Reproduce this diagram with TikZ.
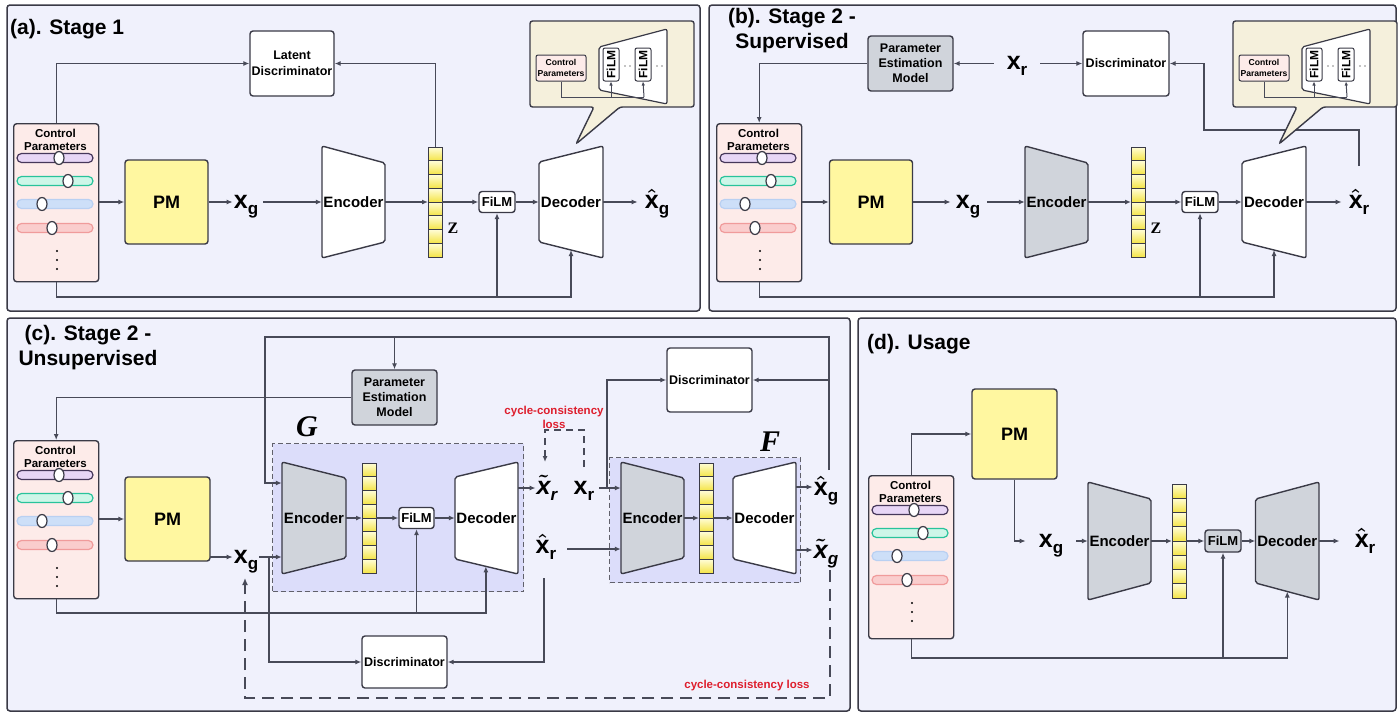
\documentclass[tikz,border=0pt]{standalone}
\usepackage{fontspec}
\setmainfont{Liberation Sans}
\newfontfamily\serifbf{Liberation Serif}
\usetikzlibrary{arrows.meta,calc,shadings}

\definecolor{panelc}{RGB}{240,241,252}
\definecolor{edgec}{RGB}{58,58,70}
\definecolor{linec}{RGB}{72,74,88}
\definecolor{pmc}{RGB}{255,247,160}
\definecolor{cpc}{RGB}{253,235,233}
\definecolor{grayc}{RGB}{208,212,219}
\definecolor{callc}{RGB}{245,240,220}
\definecolor{gfc}{RGB}{220,221,250}
\definecolor{redc}{RGB}{222,30,45}
\definecolor{vecA}{RGB}{255,253,215}
\definecolor{vecB}{RGB}{244,228,70}
\definecolor{purpF}{RGB}{232,214,246}
\definecolor{purpD}{RGB}{70,55,90}
\definecolor{tealF}{RGB}{205,246,232}
\definecolor{tealD}{RGB}{40,195,155}
\definecolor{blueF}{RGB}{205,223,248}
\definecolor{blueD}{RGB}{185,208,242}
\definecolor{redF}{RGB}{250,205,205}
\definecolor{redD}{RGB}{240,155,155}

\newcommand\fsz[1]{\fontsize{#1}{#1}\selectfont}
\newcommand\xsub[2]{{\bfseries\fsz{25}#1\raisebox{-0.22em}{\fsz{17}#2}}}
\newcommand\xhat[1]{{\bfseries\fsz{25}{\boldmath$\hat{\mbox{x}}$}\raisebox{-0.22em}{\fsz{17}#1}}}
\newcommand\xtil[1]{{\bfseries\itshape\fsz{25}{\boldmath$\tilde{\mbox{x}}$}\raisebox{-0.22em}{\fsz{17}#1}}}

% control parameter box: name, left, top, height
\newcommand\cpbox[4]{%
  \node[bx, fill=cpc, minimum width=85pt, minimum height=#4pt, anchor=north west] (#1) at (#2,#3) {};
  \node[font=\bfseries\fontsize{11.5}{13}\selectfont, inner sep=0pt, align=center] (#1-t) at ({#2+42.5},{#3+16.5}) {Control\\Parameters};
  \draw[line width=1.2pt, draw=purpD, fill=purpF, rounded corners=4.5pt] ({#2+4},{#3+30.5}) rectangle ({#2+80},{#3+39.5});
  \draw[line width=1.2pt, draw=edgec, fill=white] ({#2+46},{#3+35}) ellipse (5pt and 6.5pt);
  \draw[line width=1.2pt, draw=tealD, fill=tealF, rounded corners=4.5pt] ({#2+4},{#3+53.5}) rectangle ({#2+80},{#3+62.5});
  \draw[line width=1.2pt, draw=edgec, fill=white] ({#2+55},{#3+58}) ellipse (5pt and 6.5pt);
  \draw[line width=1.2pt, draw=blueD, fill=blueF, rounded corners=4.5pt] ({#2+4},{#3+76.5}) rectangle ({#2+80},{#3+85.5});
  \draw[line width=1.2pt, draw=edgec, fill=white] ({#2+29},{#3+81}) ellipse (5pt and 6.5pt);
  \draw[line width=1.2pt, draw=redD, fill=redF, rounded corners=4.5pt] ({#2+4},{#3+100.5}) rectangle ({#2+80},{#3+109.5});
  \draw[line width=1.2pt, draw=edgec, fill=white] ({#2+39},{#3+105}) ellipse (5pt and 6.5pt);
  \fill[black] ({#2+44},{#3+128}) circle (1.2pt) ({#2+44},{#3+137}) circle (1.2pt) ({#2+44},{#3+146}) circle (1.2pt);
}
% latent vector: name, left, top, height
\newcommand\zvec[4]{%
  \foreach \i in {0,...,7}{%
    \draw[draw=edgec, line width=0.9pt, top color=vecA, bottom color=vecB] (#2,{#3+\i*#4/8}) rectangle ({#2+14},{#3+(\i+1)*#4/8});
  }
  \node[inner sep=0pt, minimum width=14pt, minimum height=#4pt, anchor=north west] (#1) at (#2,#3) {};
}
% trapezoid: name,x1,x2,yl1,yl2,yr1,yr2,fill,text
\newcommand\trapz[9]{%
  \coordinate (#1-tl) at (#2,#4); \coordinate (#1-bl) at (#2,#5);
  \coordinate (#1-tr) at (#3,#6); \coordinate (#1-br) at (#3,#7);
  \draw[encs, fill=#8] (#1-tl) -- (#1-tr) -- (#1-br) -- (#1-bl) -- cycle;
  \node[inner sep=0pt, minimum width={#3-#2}, font=\bfseries\fsz{15}] (#1) at ({(#2+#3)/2},{(#4+#5)/2}) {#9};
}
% callout (in panel-a coordinates)
\newcommand\callout[1]{%
  \draw[draw=edgec, line width=1.4pt, fill=callc, rounded corners=2.5pt] (530,21) -- (694,21) -- (694,107) -- (620,107) -- (576,144) -- (594,107) -- (530,107) -- cycle;
  \node[bx, line width=1pt, fill=cpc, minimum width=50pt, minimum height=26pt, rounded corners=2pt, font=\bfseries\fontsize{8.6}{11}\selectfont] (#1-cp) at (561,68) {Control\\Parameters};
  \draw[encs, fill=white, line width=1.2pt] (599,47) -- (667,29) -- (667,104) -- (599,90) -- cycle;
  \node[bx, line width=1pt, fill=white, minimum width=16pt, minimum height=33pt, rounded corners=2pt] (#1-f1) at (611,64.5) {};
  \node[rotate=90, font=\bfseries\fsz{12}, inner sep=0pt] at (#1-f1) {FiLM};
  \node[bx, line width=1pt, fill=white, minimum width=16pt, minimum height=33pt, rounded corners=2pt] (#1-f2) at (643,64.5) {};
  \node[rotate=90, font=\bfseries\fsz{12}, inner sep=0pt] at (#1-f2) {FiLM};
  \fill[black] (625,66) circle (0.6pt) (630,66) circle (0.6pt) (657,66) circle (0.6pt) (662,66) circle (0.6pt);
  \coordinate (#1-j) at (644,97);
  \draw[ln, line width=1pt] (#1-cp.south) |- (#1-j);
  \draw[sconn] (#1-j) -- (#1-f2.south);
  \draw[sconn] (#1-f1.south |- #1-j) -- (#1-f1.south);
}

\begin{document}
\begin{tikzpicture}[x=1pt,y=-1pt,
  panel/.style={draw=edgec, line width=1.5pt, fill=panelc, rounded corners=3pt},
  bx/.style={draw=edgec, line width=1.4pt, rounded corners=3pt, inner sep=0pt, align=center, font=\bfseries\fontsize{12.5}{15}\selectfont},
  conn/.style={draw=linec, line width=1.3pt, -{Latex[length=6pt,width=5pt]}},
  sconn/.style={draw=linec, line width=1pt, -{Latex[length=4pt,width=3.5pt]}},
  ln/.style={draw=linec, line width=1.3pt},
  lab/.style={inner sep=1pt, anchor=base},
  ttl/.style={font=\bfseries\fontsize{21}{25}\selectfont, inner sep=0pt, align=center},
  encs/.style={draw=edgec, line width=1.4pt, rounded corners=2pt},
  gbox/.style={draw=edgec!80, line width=1pt, dash pattern=on 5pt off 3pt, fill=gfc, inner sep=0pt},
  redt/.style={text=redc, font=\bfseries\fontsize{11.5}{14}\selectfont, align=center, inner sep=0pt},
  dconn/.style={draw=linec, line width=1.3pt, dash pattern=on 7pt off 5pt, -{Latex[length=6pt,width=5pt]}},
  bigd/.style={draw=linec, line width=1.7pt, dash pattern=on 12pt off 7pt, -{Latex[length=7pt,width=6pt]}},
  pmbox/.style={bx, fill=pmc, font=\bfseries\fsz{18}},
  filmbox/.style={bx, minimum width=36pt, minimum height=21pt, font=\bfseries\fsz{13}},
  zlab/.style={font=\serifbf\bfseries\fsz{16}, inner sep=0pt},
  gflab/.style={font=\serifbf\bfseries\itshape\fsz{30}, inner sep=0pt}
]
\useasboundingbox (0,0) rectangle (1399,715);
\fill[white] (0,0) rectangle (1399,715);

% panels
\draw[panel] (7,5) rectangle (700,311);
\draw[panel] (709,5) rectangle (1396,311);
\draw[panel] (7,318) rectangle (850,711);
\draw[panel] (858,318) rectangle (1396,711);

% ================= (a)
\node[ttl, anchor=west] (tA) at (10,29) {(a). Stage 1};
\cpbox{cpA}{13}{123}{158}
\node[bx, fill=white, minimum width=84pt, minimum height=65pt, font=\bfseries\fontsize{12.5}{16}\selectfont] (latA) at (292,63.5) {Latent\\Discriminator};
\node[pmbox, minimum width=83pt, minimum height=84pt] (pmA) at (166.5,202) {PM};
\node[lab] (xgA) at (246,208.5) {\xsub{x}{g}};
\trapz{encA}{322}{385}{146}{258}{163}{242}{white}{Encoder}
\zvec{zA}{428}{147}{110}
\node[filmbox, fill=white] (filmA) at (497,202) {FiLM};
\node[zlab] (zlA) at (453,228) {Z};
\trapz{decA}{539}{603}{162}{242}{146}{258}{white}{Decoder}
\node[lab] (xhA) at (657,208.5) {\xhat{g}};

\draw[conn] (cpA.east |- pmA) -- (pmA.west);
\draw[conn] (pmA.east) -- (pmA.east -| xgA.west);
\draw[conn] ($(xgA.east |- encA.west)+(4,0)$) -- (encA.west);
\draw[conn] (encA.east) -- (encA.east -| zA.west);
\draw[conn] (zA.east |- filmA.west) -- (filmA.west);
\draw[conn] (filmA.east) -- (filmA.east -| decA.west);
\draw[conn] (decA.east) -- ($(decA.east -| xhA.west)+(-6,0)$);
\draw[conn] (cpA.north) |- (latA.west);
\draw[conn] (zA.north) |- (latA.east);
\coordinate (ybA) at (0,297);
\coordinate (dbA) at ($(decA-bl)!0.5!(decA-br)$);
\draw[conn] (cpA.south) |- (dbA |- ybA) -- (dbA);
\draw[conn] (filmA.south |- ybA) -- (filmA.south);
\callout{coA}

% ================= (b)
\node[ttl] (tB) at (792,30.5) {(b). Stage 2 -\\Supervised};
\cpbox{cpB}{716}{123}{158}
\node[bx, fill=grayc, minimum width=85pt, minimum height=55pt] (pemB) at (910.5,63.5) {Parameter\\Estimation\\Model};
\node[lab] (xrB) at (1017,69.5) {\xsub{x}{r}};
\node[bx, fill=white, minimum width=86pt, minimum height=65pt] (discB) at (1126,63.5) {Discriminator};
\node[pmbox, minimum width=83pt, minimum height=84pt] (pmB) at (871,202) {PM};
\node[lab] (xgB) at (968,208.5) {\xsub{x}{g}};
\trapz{encB}{1025}{1088}{146}{258}{163}{242}{grayc}{Encoder}
\zvec{zB}{1131}{147}{110}
\node[filmbox, fill=white] (filmB) at (1200,202) {FiLM};
\node[zlab] (zlB) at (1156,228) {Z};
\trapz{decB}{1242}{1306}{162}{242}{146}{258}{white}{Decoder}
\node[lab] (xhB) at (1359,208.5) {\xhat{r}};

\draw[conn] (cpB.east |- pmB) -- (pmB.west);
\draw[conn] (pmB.east) -- ($(pmB.east -| xgB.west)+(-4,0)$);
\draw[conn] ($(xgB.east |- encB.west)+(6,0)$) -- (encB.west);
\draw[conn] (encB.east) -- (encB.east -| zB.west);
\draw[conn] (zB.east |- filmB.west) -- (filmB.west);
\draw[conn] (filmB.east) -- (filmB.east -| decB.west);
\draw[conn] (decB.east) -- ($(decB.east -| xhB.west)+(-6,0)$);
\draw[conn] (pemB.west) -| (cpB.north);
\draw[conn] ($(xrB.west |- pemB.east)+(-12,0)$) -- (pemB.east);
\draw[conn] ($(xrB.east |- discB.west)+(12,0)$) -- (discB.west);
\coordinate (xhBtop) at (1359,166);
\coordinate (bjB) at (1204,130);
\draw[conn] (xhBtop) |- (bjB) |- (discB.east);
\coordinate (ybB) at (0,297);
\coordinate (dbB) at ($(decB-bl)!0.5!(decB-br)$);
\draw[conn] (cpB.south) |- (dbB |- ybB) -- (dbB);
\draw[conn] (filmB.south |- ybB) -- (filmB.south);
\begin{scope}[xshift=703pt]
\callout{coB}
\end{scope}

% ================= (c)
\node[ttl] (tC) at (88,348) {(c). Stage 2 -\\Unsupervised};
\cpbox{cpC}{13}{440}{158}
\node[bx, fill=grayc, minimum width=85pt, minimum height=55pt] (pemC) at (394.5,397.5) {Parameter\\Estimation\\Model};
\node[pmbox, minimum width=85pt, minimum height=84pt] (pmC) at (167.5,519) {PM};
\node[gbox, minimum width=251pt, minimum height=148pt, anchor=north west] (gC) at (272,443) {};
\node[gflab] (gLab) at (307,427) {G};
\trapz{encG}{282}{346}{462}{574}{478}{558}{grayc}{Encoder}
\zvec{zG}{362}{463}{110}
\node[filmbox, fill=white, minimum width=35pt] (filmG) at (416.5,518) {FiLM};
\trapz{decG}{455}{518}{477}{559}{462}{574}{white}{Decoder}
\node[lab] (xgC) at (246,563.5) {\xsub{x}{g}};
\node[lab] (xtrC) at (547,494.5) {\xtil{r}};
\node[lab] (xrC) at (584,494.5) {\xsub{x}{r}};
\node[lab] (xhrC) at (546,553.5) {\xhat{r}};
\node[redt] (cc1) at (554,417) {cycle-consistency\\loss};
\node[gbox, minimum width=191pt, minimum height=125pt, anchor=north west] (fC) at (609,457) {};
\node[gflab] (fLab) at (770,442) {F};
\trapz{encF}{621}{684}{462}{574}{478}{558}{grayc}{Encoder}
\zvec{zF}{699}{463}{110}
\trapz{decF}{733}{796}{477}{559}{462}{574}{white}{Decoder}
\node[lab] (xhgC) at (826,495.5) {\xhat{g}};
\node[lab] (xtgC) at (826,558.5) {\xtil{g}};
\node[bx, fill=white, minimum width=85pt, minimum height=64pt] (discC1) at (709.5,380) {Discriminator};
\node[bx, fill=white, minimum width=85pt, minimum height=52pt] (discC2) at (404.5,662) {Discriminator};
\node[redt] (cc2) at (747,686) {cycle-consistency loss};

\draw[conn] (pemC.west) -| (cpC.north);
\draw[conn] (cpC.east |- pmC) -- (pmC.west);
\coordinate (pmCo) at (210,557);
\draw[conn] (pmCo) -- (pmCo -| xgC.west);
\draw[conn] (xgC.east |- pmCo) -- (encG.west |- pmCo);
\coordinate (jxC) at (269,557);
\draw[conn] (jxC) |- (discC2.west);
\draw[conn] (encG.east) -- (encG.east -| zG.west);
\draw[conn] (zG.east |- filmG.west) -- (filmG.west);
\draw[conn] (filmG.east) -- (filmG.east -| decG.west);
\coordinate (xtrY) at (0,488);
\draw[conn] (decG.east |- xtrY) -- (xtrC.west |- xtrY);
\draw[conn] ($(xrC.east |- xtrY)+(4,0)$) -- (encF.west |- xtrY);
\coordinate (xrj) at (607,488);
\draw[conn] (xrj) |- (discC1.west);
\coordinate (xhrY) at (0,549);
\draw[conn] ($(xhrC.east |- xhrY)+(10,0)$) -- (encF.west |- xhrY);
\coordinate (xhrS) at (544,578);
\draw[conn] (xhrS) |- (discC2.east);
\draw[conn] (encF.east) -- (encF.east -| zF.west);
\draw[conn] (zF.east |- decF.west) -- (decF.west);
\coordinate (ogY1) at (0,487);
\coordinate (ogY2) at (0,550);
\draw[conn] (decF.east |- ogY1) -- (xhgC.west |- ogY1);
\draw[conn] (decF.east |- ogY2) -- (xtgC.west |- ogY2);
\coordinate (tlR) at (829,470);
\coordinate (tlT) at (265,337);
\coordinate (tlE) at (0,483);
\draw[conn] (tlR) |- (tlT) |- (encG.west |- tlE);
\draw[conn] (pemC.north |- tlT) -- (pemC.north);
\draw[conn] (tlR |- discC1.east) -- (discC1.east);
\coordinate (ybC) at (0,613);
\coordinate (dbG) at ($(decG-bl)!0.49!(decG-br)$);
\draw[conn] (cpC.south) |- (dbG |- ybC) -- (dbG);
\draw[conn] (filmG.south |- ybC) -- (filmG.south);
\coordinate (brR) at (584,467);
\coordinate (brT) at (0,430);
\coordinate (brL) at (545,462);
\draw[dconn] (brR) |- (brL |- brT) -- (brL);
\coordinate (dlS) at (830,570);
\coordinate (dlB) at (0,698);
\coordinate (dlE) at (245,578);
\draw[bigd] (dlS) |- (dlE |- dlB) -- (dlE);

% ================= (d)
\node[ttl, anchor=west] (tD) at (867,344.5) {(d). Usage};
\cpbox{cpD}{868}{475}{163}
\node[pmbox, minimum width=85pt, minimum height=90pt] (pmD) at (1014.5,434) {PM};
\node[lab] (xgD) at (1051,547.5) {\xsub{x}{g}};
\trapz{encD}{1088}{1151}{482}{600}{499}{583}{grayc}{Encoder}
\zvec{zD}{1172}{484}{114}
\node[filmbox, fill=grayc, minimum height=22pt] (filmD) at (1223,541) {FiLM};
\trapz{decD}{1255.5}{1319}{499}{583}{482}{600}{grayc}{Decoder}
\node[lab] (xhD) at (1365,547.5) {\xhat{r}};

\draw[conn] (cpD.north) |- (pmD.west);
\coordinate (dY) at (0,541);
\draw[conn] (pmD.south) |- ($(xgD.west |- dY)+(-12,0)$);
\draw[conn] ($(xgD.east |- dY)+(12,0)$) -- (encD.west);
\draw[conn] (encD.east) -- (encD.east -| zD.west);
\draw[conn] (zD.east |- filmD.west) -- (filmD.west);
\draw[conn] (filmD.east) -- (filmD.east -| decD.west);
\draw[conn] (decD.east) -- ($(decD.east -| xhD.west)+(-14,0)$);
\coordinate (ybD) at (0,658);
\coordinate (dbD) at ($(decD-bl)!0.5!(decD-br)$);
\draw[conn] (cpD.south) |- (dbD |- ybD) -- (dbD);
\draw[conn] (filmD.south |- ybD) -- (filmD.south);
\end{tikzpicture}
\end{document}
